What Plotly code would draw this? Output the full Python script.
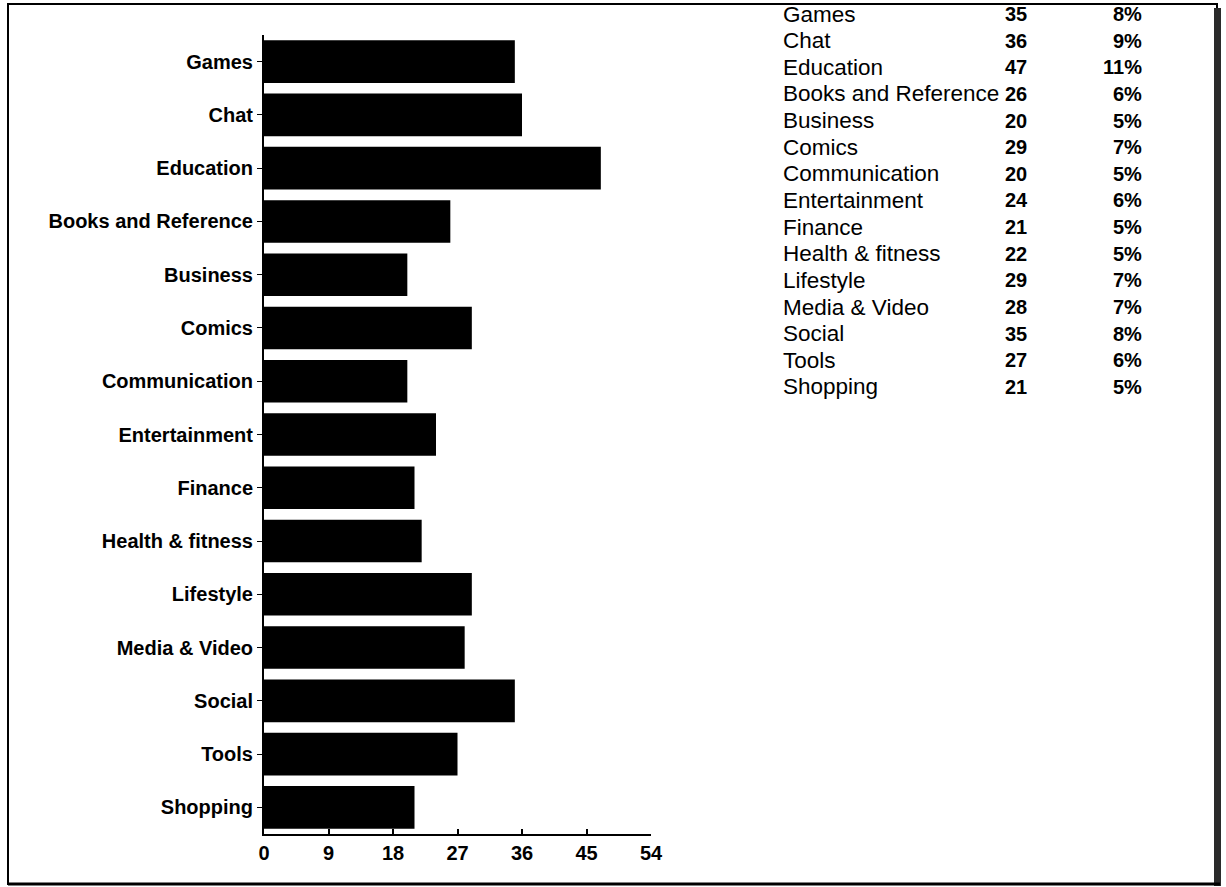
import plotly.graph_objects as go

categories = ["Games", "Chat", "Education", "Books and Reference", "Business",
              "Comics", "Communication", "Entertainment", "Finance",
              "Health & fitness", "Lifestyle", "Media & Video", "Social",
              "Tools", "Shopping"]
counts = [35, 36, 47, 26, 20, 29, 20, 24, 21, 22, 29, 28, 35, 27, 21]
percents = ["8%", "9%", "11%", "6%", "5%", "7%", "5%", "6%", "5%", "5%",
            "7%", "7%", "8%", "6%", "5%"]
x_ticks = [0, 9, 18, 27, 36, 45, 54]

W, H = 1226, 887
FONT = "Liberation Sans, Arial, Helvetica, sans-serif"


def px_x(p):
    return p / W


def px_y(p):
    return 1 - p / H


fig = go.Figure()
fig.add_trace(go.Bar(
    x=counts, y=categories, orientation="h",
    marker=dict(color="#000000", line=dict(width=0)),
    xaxis="x", yaxis="y", showlegend=False, hoverinfo="x+y",
))
# invisible helper trace for the table axis
fig.add_trace(go.Scatter(
    x=counts, y=categories, mode="markers", marker=dict(opacity=0),
    xaxis="x2", yaxis="y2", showlegend=False, hoverinfo="skip",
))

annotations = []
for cat, cnt, pct in zip(categories, counts, percents):
    annotations.append(dict(
        xref="paper", yref="y2", x=px_x(781), y=cat, text=cat,
        xanchor="left", yanchor="middle", showarrow=False,
        font=dict(family=FONT, size=22.5, color="#000000"),
    ))
    annotations.append(dict(
        xref="paper", yref="y2", x=px_x(1016), y=cat, text="<b>%d</b>" % cnt,
        xanchor="center", yanchor="middle", showarrow=False,
        font=dict(family=FONT, size=20, color="#000000"),
    ))
    annotations.append(dict(
        xref="paper", yref="y2", x=px_x(1144), y=cat, text="<b>%s</b>" % pct,
        xanchor="right", yanchor="middle", showarrow=False,
        font=dict(family=FONT, size=20, color="#000000"),
    ))

shapes = [
    dict(type="rect", xref="paper", yref="paper",
         x0=px_x(8), x1=px_x(1217), y0=px_y(884), y1=px_y(4),
         line=dict(color="#000000", width=2), fillcolor="rgba(0,0,0,0)"),
    dict(type="rect", xref="paper", yref="paper",
         x0=px_x(1214), x1=px_x(1221), y0=px_y(886), y1=px_y(8),
         line=dict(width=0), fillcolor="#2a2a2a"),
    dict(type="line", xref="paper", yref="paper",
         x0=px_x(8), x1=px_x(1220), y0=px_y(884), y1=px_y(884),
         line=dict(color="#000000", width=3)),
]

fig.update_layout(
    width=W, height=H,
    margin=dict(l=0, r=0, t=0, b=0),
    paper_bgcolor="#ffffff", plot_bgcolor="#ffffff",
    bargap=0.2,
    font=dict(family=FONT, color="#000000"),
    xaxis=dict(
        domain=[px_x(264), px_x(651)], range=[0, 54],
        tickvals=x_ticks, ticktext=[str(v) for v in x_ticks],
        showgrid=False, zeroline=False,
        showline=True, linecolor="#000000", linewidth=2,
        ticks="inside", ticklen=5, tickwidth=2, tickcolor="#000000",
        tickfont=dict(family=FONT, size=20, color="#000000", weight="bold"),
        anchor="y", automargin=False, fixedrange=True,
    ),
    yaxis=dict(
        domain=[px_y(834), px_y(35)],
        categoryorder="array", categoryarray=categories,
        range=[14.5, -0.5],
        showgrid=False, zeroline=False,
        showline=True, linecolor="#000000", linewidth=2,
        ticks="outside", ticklen=5, tickwidth=1, tickcolor="#000000",
        tickfont=dict(family=FONT, size=20, color="#000000", weight="bold"),
        anchor="x", automargin=False, fixedrange=True,
    ),
    xaxis2=dict(domain=[px_x(770), px_x(1160)], range=[0, 100],
                visible=False, anchor="y2", fixedrange=True),
    yaxis2=dict(domain=[px_y(400.3), px_y(0.7)],
                categoryorder="array", categoryarray=categories,
                range=[14.5, -0.5], visible=False, anchor="x2",
                fixedrange=True),
    annotations=annotations,
    shapes=shapes,
)

fig.write_html(
    "out.html",
    config={"displayModeBar": False},
    post_script="document.body.style.margin='0';document.body.style.overflow='hidden';",
)
